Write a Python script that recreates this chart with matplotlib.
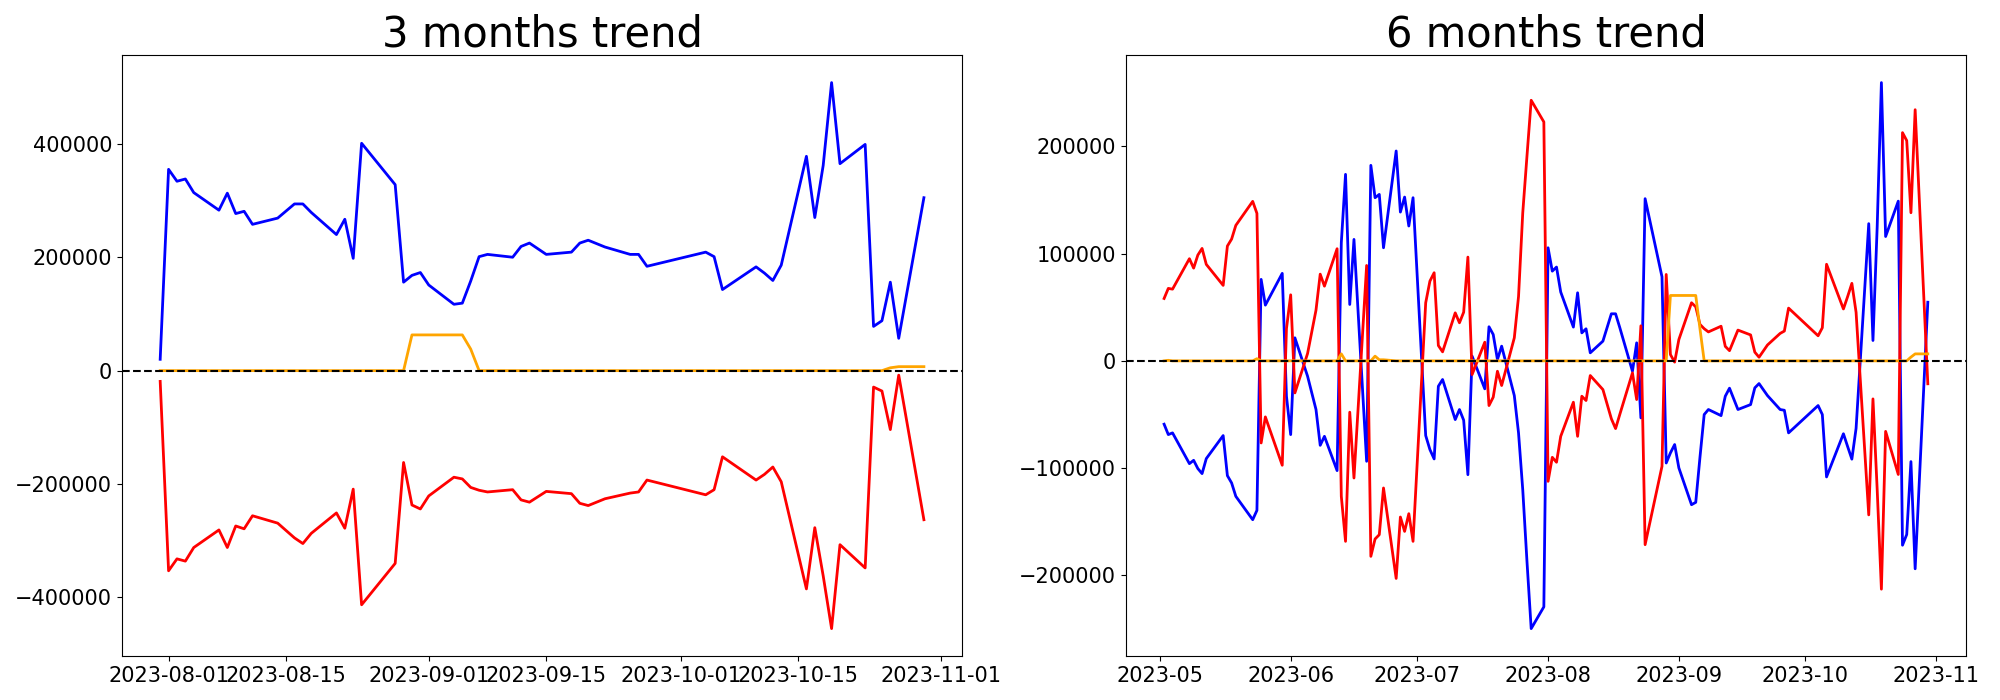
import numpy as np
import pandas as pd
import matplotlib
matplotlib.use("Agg")
import matplotlib.pyplot as plt

# ---------------------------------------------------------------------------
# 3 months data (Jul 31 - Oct 30)
# ---------------------------------------------------------------------------

dates_3m = [
    "2023-07-31",
    "2023-08-01", "2023-08-02", "2023-08-03", "2023-08-04", "2023-08-07", "2023-08-08",
    "2023-08-09", "2023-08-10", "2023-08-11", "2023-08-14", "2023-08-16", "2023-08-17",
    "2023-08-18", "2023-08-21", "2023-08-22", "2023-08-23", "2023-08-24", "2023-08-28",
    "2023-08-29", "2023-08-30", "2023-08-31",
    "2023-09-01", "2023-09-04", "2023-09-05", "2023-09-06", "2023-09-07", "2023-09-08",
    "2023-09-11", "2023-09-12", "2023-09-13", "2023-09-15", "2023-09-18", "2023-09-19",
    "2023-09-20", "2023-09-22", "2023-09-25", "2023-09-26", "2023-09-27",
    "2023-10-04", "2023-10-05", "2023-10-06", "2023-10-10", "2023-10-11", "2023-10-12",
    "2023-10-13", "2023-10-16", "2023-10-17", "2023-10-18", "2023-10-19", "2023-10-20",
    "2023-10-23", "2023-10-24", "2023-10-25", "2023-10-26", "2023-10-27", "2023-10-30",
]

blue_3m = [
    20000,
    355000, 334000, 338000, 314000, 283000, 313000, 277000, 281000, 258000, 269000,
    294000, 294000, 279000, 240000, 267000, 198000, 401000, 328000, 156000, 168000, 173000,
    151000, 117000, 119000, 158000, 201000, 205000, 200000, 219000, 225000, 205000,
    209000, 225000, 230000, 218000, 205000, 205000, 184000,
    209000, 201000, 143000, 183000, 172000, 159000, 186000, 378000, 270000, 362000,
    508000, 365000, 399000, 78000, 88000, 156000, 57000, 305000,
]

red_3m = [
    -19000,
    -353000, -332000, -336000, -312000, -281000, -312000, -274000, -279000, -256000, -269000,
    -295000, -305000, -287000, -251000, -278000, -209000, -413000, -340000, -162000, -237000, -244000,
    -221000, -188000, -191000, -206000, -211000, -214000, -210000, -228000, -232000, -213000,
    -217000, -234000, -238000, -226000, -216000, -214000, -193000,
    -219000, -210000, -152000, -193000, -183000, -170000, -196000, -385000, -277000, -362000,
    -455000, -307000, -348000, -29000, -36000, -104000, -8000, -263000,
]

orange_3m = [
    0,
    0, 0, 0, 0, 0, 0, 0, 0, 0, 0,
    0, 0, 0, 0, 0, 0, 0, 0, 0, 63000, 63000,
    63000, 63000, 63000, 38000, 0, 0, 0, 0, 0, 0,
    0, 0, 0, 0, 0, 0, 0,
    0, 0, 0, 0, 0, 0, 0, 0, 0, 0,
    0, 0, 0, 0, 0, 5000, 7000, 7000,
]

# ---------------------------------------------------------------------------
# 6 months data (May 2 - Oct 30)
# ---------------------------------------------------------------------------

dates_6m = [
    # May
    "2023-05-02", "2023-05-03", "2023-05-04", "2023-05-08", "2023-05-09", "2023-05-10",
    "2023-05-11", "2023-05-12", "2023-05-16", "2023-05-17", "2023-05-18", "2023-05-19",
    "2023-05-23", "2023-05-24", "2023-05-25", "2023-05-26", "2023-05-30", "2023-05-31",
    # Jun
    "2023-06-01", "2023-06-02", "2023-06-05", "2023-06-07", "2023-06-08", "2023-06-09",
    "2023-06-12", "2023-06-13", "2023-06-14", "2023-06-15", "2023-06-16", "2023-06-19",
    "2023-06-20", "2023-06-21", "2023-06-22", "2023-06-23", "2023-06-26", "2023-06-27",
    "2023-06-28", "2023-06-29", "2023-06-30",
    # Jul
    "2023-07-03", "2023-07-04", "2023-07-05", "2023-07-06", "2023-07-07", "2023-07-10",
    "2023-07-11", "2023-07-12", "2023-07-13", "2023-07-14", "2023-07-17", "2023-07-18",
    "2023-07-19", "2023-07-20", "2023-07-21", "2023-07-24", "2023-07-25", "2023-07-26",
    "2023-07-27", "2023-07-28", "2023-07-31",
] + dates_3m[1:]

blue_6m = [
    # May
    -59100, -68800, -67200, -95900, -92800, -100500, -105200, -91200, -69700, -107100,
    -113900, -126400, -148200, -139500, 76000, 52000, 81600, -33000,
    # Jun
    -68800, 21500, -14300, -45400, -78800, -70400, -102400, 110200, 174000, 52600,
    113300, -93700, 182400, 152200, 155300, 105500, 195800, 138800, 152800, 125800, 152200,
    # Jul
    -69700, -82800, -91500, -23700, -17400, -54800, -45400, -55400, -106200, 4400,
    -26100, 31800, 24600, 1200, 13700, -32400, -67200, -120200, -187000, -249800, -229500,
    # Aug
    105500, 83700, 87500, 64200, 31500, 63500, 26100, 29900, 7500, 18400,
    43900, 43900, 31000, -9700, 16800, -53200, 151300, 78400, -95300, -85900, -78100,
    # Sep
    -99900, -134200, -132000, -90000, -50100, -45400, -51100, -33000, -25500, -45400,
    -40800, -25200, -21200, -32400, -45400, -46100, -67200,
    # Oct
    -41700, -50100, -108300, -68000, -80000, -91700, -63000, 128000, 19000, 125000,
    259600, 116000, 149000, -172000, -162000, -94000, -194000, 54700,
]

red_6m = [
    # May
    58200, 67600, 66900, 95300, 86500, 98700, 104900, 90000, 70400, 107100,
    113600, 126400, 148800, 137600, -76600, -52300, -97400, 30000,
    # Jun
    61600, -29900, 6800, 47300, 80900, 69700, 104600, -126400, -168400, -47900,
    -109300, 89000, -182400, -166200, -162200, -118600, -203000, -145700, -159100, -142600, -168400,
    # Jul
    54200, 74400, 82200, 14300, 8400, 44800, 35500, 45400, 96800, -12800,
    17400, -41700, -33900, -9700, -23000, 21500, 60000, 138000, 191000, 243100, 222900,
    # Aug
    -112400, -90000, -94600, -70400, -38600, -70400, -33000, -37000, -13700, -26800,
    -54000, -63200, -50000, -11200, -36100, 32700, -171500, -98400, 80600, 5900, -1200,
    # Sep
    19900, 54200, 50400, 34000, 30000, 27000, 32300, 13500, 9500, 28700,
    24200, 8100, 3400, 14800, 25600, 27800, 49200,
    # Oct
    23400, 30900, 90100, 48400, 60000, 72300, 45300, -143700, -35500, -120000,
    -213000, -65800, -106000, 212900, 205500, 138200, 234300, -21400,
]

orange_6m = [
    # May
    0, 500, 0, 0, 0, 0, 0, 0, 0, 0,
    0, 0, 0, 2000, 0, 0, 0, 0,
    # Jun
    0, 0, 0, 0, 0, 0, 0, 6500, 0, 0,
    0, 0, 0, 4400, 1000, 1000, 0, 0, 0, 0, 0,
    # Jul
    0, 0, 0, 0, 0, 0, 0, 0, 0, 0,
    0, 0, 0, 0, 0, 0, 0, 0, 0, 0, 0,
    # Aug
    0, 0, 0, 0, 0, 0, 0, 0, 0, 0,
    0, 0, 0, 0, 0, 0, 0, 0, 0, 61000, 61000,
    # Sep
    61000, 61000, 61000, 30000, 0, 0, 0, 0, 0, 0,
    0, 0, 0, 0, 0, 0, 0,
    # Oct
    0, 0, 0, 0, 0, 0, 0, 0, 0, 0,
    0, 0, 0, 0, 0, 3500, 6500, 6500,
]

# ---------------------------------------------------------------------------
# Plot
# ---------------------------------------------------------------------------

panels = [
    ("3 months trend", dates_3m, blue_3m, red_3m, orange_3m),
    ("6 months trend", dates_6m, blue_6m, red_6m, orange_6m),
]

fig, axes = plt.subplots(1, 2, figsize=(20, 7))
for ax, (title, dates, blue, red, orange) in zip(axes, panels):
    x = pd.to_datetime(dates)
    ax.plot(x, blue, color="blue", linewidth=2)
    ax.plot(x, red, color="red", linewidth=2)
    ax.plot(x, orange, color="orange", linewidth=2)
    ax.axhline(0, color="black", linestyle="--", linewidth=1.5)
    ax.set_title(title, fontsize=30)
    ax.tick_params(labelsize=15)

fig.subplots_adjust(left=0.061, right=0.983, bottom=0.063, top=0.921, wspace=0.195)
fig.savefig("out.png", dpi=100)
